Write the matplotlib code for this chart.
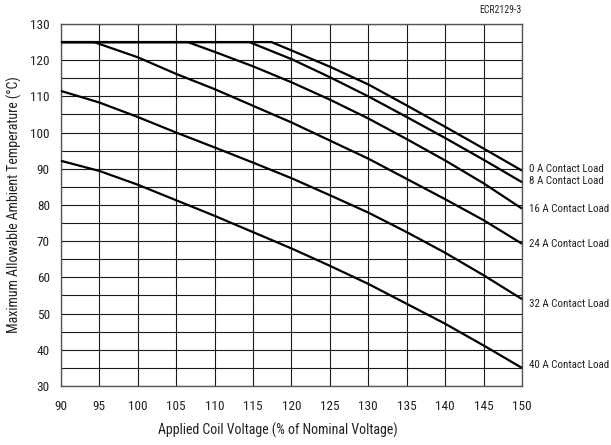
import matplotlib.pyplot as plt
import numpy as np
from matplotlib import font_manager

# curves
volts_0a = [90, 117.4, 120, 125, 130, 135, 140, 145, 150]
temp_0a = [125, 125, 122.7, 118.2, 113.3, 107.5, 101.6, 95.6, 89.5]

volts_8a = [90, 114.5, 120, 125, 130, 135, 140, 145, 150]
temp_8a = [125, 125, 120.3, 115.3, 110.0, 104.3, 98.5, 92.5, 86.3]

volts_16a = [90, 106.5, 110, 115, 120, 125, 130, 135, 140, 145, 150]
temp_16a = [125, 125, 122.3, 118.3, 113.9, 109.1, 103.9, 98.2, 92.3, 86.0, 79.0]

volts_24a = [90, 94.3, 100, 105, 110, 115, 120, 125, 130, 135, 140, 145, 150]
temp_24a = [125, 125, 120.8, 116.2, 112.0, 107.4, 102.8, 97.8, 92.8, 87.2, 81.6, 75.8, 69.3]

volts_32a = [90, 95, 100, 105, 110, 115, 120, 125, 130, 135, 140, 145, 150]
temp_32a = [111.5, 108.3, 104.3, 100.0, 95.9, 91.7, 87.4, 82.7, 77.9, 72.5, 66.8, 60.6, 54.0]

volts_40a = [90, 95, 100, 105, 110, 115, 120, 125, 130, 135, 140, 145, 150]
temp_40a = [92.2, 89.4, 85.6, 81.3, 77.0, 72.5, 68.0, 63.2, 58.2, 52.7, 47.2, 41.2, 35.0]

labels = ["0 A Contact Load", "8 A Contact Load", "16 A Contact Load",
          "24 A Contact Load", "32 A Contact Load", "40 A Contact Load"]
label_y = [89.9, 86.5, 79.0, 69.2, 52.7, 35.7]

names = {f.name for f in font_manager.fontManager.ttflist}
narrow = [n for n in ["Liberation Sans Narrow", "Roboto Condensed", "Open Sans Condensed"] if n in names]
plt.rcParams["font.family"] = narrow[:1] + ["Liberation Sans", "DejaVu Sans"]

fig = plt.figure(figsize=(6.11, 4.45), dpi=100)
ax = fig.add_axes([0.0998, 0.1326, 0.7545, 0.8135])

curves = [(volts_0a, temp_0a), (volts_8a, temp_8a), (volts_16a, temp_16a),
          (volts_24a, temp_24a), (volts_32a, temp_32a), (volts_40a, temp_40a)]
for xs, ys in curves:
    ax.plot(xs, ys, color="black", lw=1.6, solid_capstyle="butt", zorder=3, clip_on=False)

ax.set_xlim(90, 150)
ax.set_ylim(30, 130)
ax.set_xticks(np.arange(90, 151, 5))
ax.set_yticks(np.arange(30, 131, 10))
ax.set_yticks(np.arange(35, 130, 10), minor=True)
ax.grid(True, which="both", color="#1a1a1a", lw=0.8)
ax.tick_params(which="both", length=0, labelsize=9.5, colors="#222222")
ax.tick_params(axis="x", pad=10)
ax.tick_params(axis="y", pad=8)
for sp in ax.spines.values():
    sp.set_color("#555555")
    sp.set_linewidth(1.0)

label_texts = []
for txt, yv in zip(labels, label_y):
    t = ax.text(150.9, yv, txt, fontsize=9, va="center", ha="left", color="#222222",
                clip_on=False)
    label_texts.append(t)

# shrink the right-hand labels until they fit inside the figure
renderer = fig.canvas.get_renderer()
size = 9
while size > 5:
    widest = max(t.get_window_extent(renderer).x1 for t in label_texts)
    if widest <= fig.bbox.width - 1:
        break
    size -= 0.1
    for t in label_texts:
        t.set_fontsize(size)

ax.text(1.0, 1.025, "ECR2129-3", transform=ax.transAxes, ha="right", va="bottom",
        fontsize=7, color="#222222")

ax.set_xlabel("Applied Coil Voltage (% of Nominal Voltage)", fontsize=10,
              color="#222222", va="center")
ax.xaxis.set_label_coords(0.47, -0.122)
ax.set_ylabel("Maximum Allowable Ambient Temperature (\u00b0C)", fontsize=10,
              color="#222222", va="center")
ax.yaxis.set_label_coords(-0.102, 0.5)

fig.savefig("out.png", dpi=100)
